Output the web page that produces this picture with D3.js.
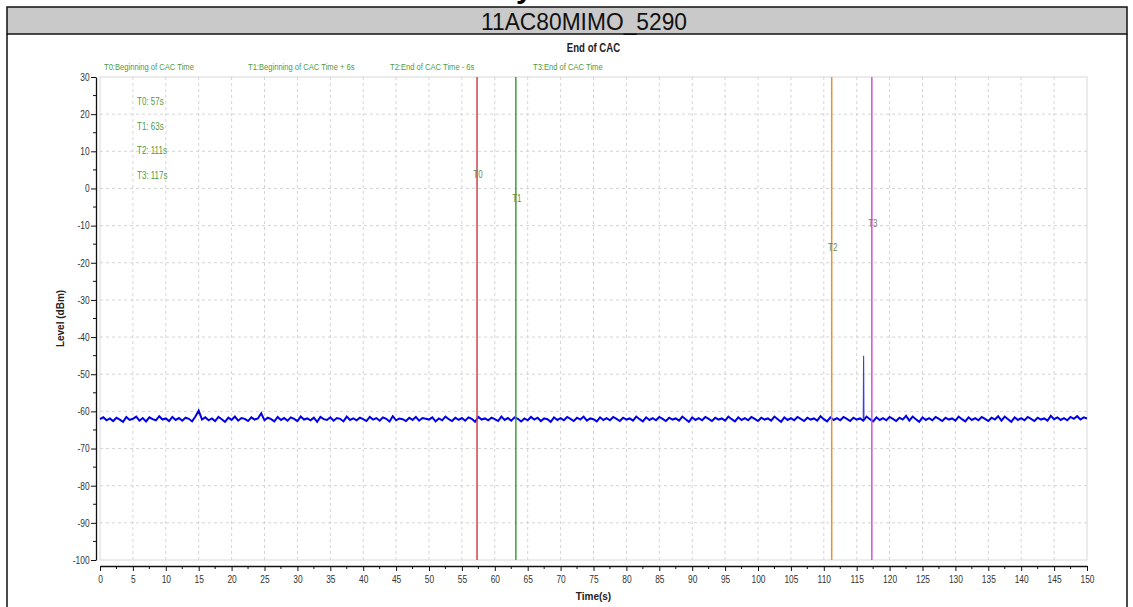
<!DOCTYPE html>
<html>
<head>
<meta charset="utf-8">
<script src="https://cdn.jsdelivr.net/npm/d3@7"></script>
<style>
  body { margin: 0; background: #fff; }
  text { font-family: "Liberation Sans", Arial, sans-serif; }
</style>
</head>
<body>
<div id="chart"></div>
<script>
// Data
const markerNames = ["T0", "T1", "T2", "T3"];
const markerTimes = [57.3, 63.2, 111.2, 117.3];
const markerColors = ["#d2404c", "#3f9c3f", "#e3923c", "#d452d4"];
const markerLabelLevels = [2.8, -3.6, -16.8, -10.4];
const legendTexts = ["T0:Beginning of CAC Time", "T1:Beginning of CAC Time + 6s", "T2:End of CAC Time - 6s", "T3:End of CAC Time"];
const infoTexts = ["T0: 57s", "T1: 63s", "T2: 111s", "T3: 117s"];
const xTicks = d3.range(0, 151, 5);
const yTicks = d3.range(-100, 31, 10);

// level trace, one value every 0.5 s from 0 to 150 s
const traceStep = 0.5;
const levels = [
  -62.1,-61.6,-62.4,-61.9,-62.6,-61.7,-62.2,-62.8,-61.5,-62.3,
  -62.0,-61.4,-62.5,-61.8,-62.7,-61.6,-62.1,-62.4,-61.3,-62.2,
  -61.9,-62.6,-61.5,-62.3,-61.8,-62.5,-61.7,-62.0,-62.7,-61.4,
  -59.8,-62.2,-61.6,-62.4,-61.9,-62.6,-61.5,-62.1,-62.8,-61.7,
  -62.3,-61.4,-62.5,-61.8,-62.0,-62.6,-61.6,-62.2,-61.9,-60.5,
  -62.4,-61.7,-62.1,-62.7,-61.5,-62.3,-61.8,-62.5,-61.6,-62.0,
  -62.6,-61.4,-62.2,-61.9,-62.4,-61.7,-62.8,-61.5,-62.1,-62.3,
  -61.6,-62.5,-61.8,-62.0,-62.7,-61.4,-62.3,-61.9,-62.4,-61.7,
  -62.1,-62.6,-61.5,-62.2,-61.8,-62.5,-61.6,-62.0,-62.7,-61.3,
  -62.4,-61.9,-62.1,-62.6,-61.7,-62.3,-61.5,-62.5,-61.8,-62.0,
  -62.2,-61.6,-62.7,-61.9,-62.4,-61.4,-62.1,-62.6,-61.7,-62.3,
  -61.8,-62.5,-61.6,-62.0,-62.8,-61.5,-62.2,-61.9,-62.4,-61.7,
  -62.1,-62.6,-61.4,-62.3,-61.8,-62.5,-61.6,-62.0,-62.7,-61.9,
  -62.4,-61.5,-62.2,-61.7,-62.6,-61.9,-62.1,-62.8,-61.6,-62.3,
  -61.8,-62.4,-61.5,-62.0,-62.6,-61.7,-62.2,-61.4,-62.5,-61.9,
  -62.1,-62.7,-61.6,-62.3,-61.8,-62.4,-61.5,-62.0,-62.6,-61.7,
  -62.2,-61.9,-62.5,-61.4,-62.1,-62.7,-61.6,-62.3,-61.8,-62.4,
  -61.5,-62.0,-62.6,-61.7,-62.2,-61.9,-62.5,-61.4,-62.1,-62.8,
  -61.6,-62.3,-61.8,-62.4,-61.5,-62.0,-62.6,-61.7,-62.2,-61.9,
  -62.5,-61.4,-62.1,-62.7,-61.6,-62.3,-61.8,-62.4,-61.5,-62.0,
  -62.6,-61.7,-62.2,-61.9,-62.5,-61.4,-62.1,-62.8,-61.6,-62.3,
  -61.8,-62.4,-61.5,-62.0,-62.6,-61.7,-62.2,-61.9,-62.5,-61.3,
  -62.1,-62.7,-61.6,-62.3,-61.8,-62.4,-61.5,-62.0,-62.6,-61.7,
  -62.2,-61.9,-62.5,-61.4,-62.1,-62.7,-61.6,-62.3,-61.8,-62.4,
  -61.5,-62.0,-62.6,-61.7,-62.2,-61.2,-62.5,-61.4,-62.1,-62.8,
  -61.6,-62.3,-61.8,-62.4,-61.5,-62.0,-62.6,-61.7,-62.2,-61.9,
  -62.5,-61.4,-62.1,-62.7,-61.6,-62.3,-61.8,-62.4,-61.5,-62.0,
  -62.6,-61.7,-62.2,-61.3,-62.5,-61.4,-62.1,-62.8,-61.6,-62.3,
  -61.8,-62.4,-61.5,-62.0,-62.6,-61.7,-62.2,-61.9,-62.5,-61.2,
  -62.1,-61.6,-62.3,-61.8,-62.4,-61.5,-62.0,-61.3,-62.2,-61.6,
  -61.9
];
// single burst near 116 s
const spikeTimes = [116.0, 116.05, 116.1];
const spikeLevels = [-62.0, -45.0, -62.0];

const W = 1133, H = 607;
const margin = { left: 100, right: 46, top: 77, bottom: 47 };
const squeeze = 0.8;   // the original uses a condensed face

const svg = d3.select("#chart").append("svg")
  .attr("width", W).attr("height", H);

// draws a condensed text at (px, py)
function narrowText(parent, px, py, str, size, color, anchor, bold) {
  return parent.append("g")
    .attr("transform", `translate(${px},${py}) scale(${squeeze},1)`)
    .append("text")
    .attr("text-anchor", anchor || "start")
    .attr("font-size", size)
    .attr("font-weight", bold ? "bold" : "normal")
    .attr("fill", color)
    .text(str);
}

// header strip and frame
svg.append("text")
  .attr("x", 516).attr("y", -2)
  .attr("font-weight", "bold").attr("font-size", 30)
  .text("y");
svg.append("rect")
  .attr("x", 7).attr("y", 7).attr("width", 1120).attr("height", 27)
  .attr("fill", "#c9c9c9").attr("stroke", "#111").attr("stroke-width", 1.5);
svg.append("path")
  .attr("d", "M7,34V607M1127,34V607")
  .attr("stroke", "#111").attr("stroke-width", 1.5).attr("fill", "none");
svg.append("g").attr("transform", "translate(584,30) scale(0.95,1)")
  .append("text")
  .attr("text-anchor", "middle")
  .attr("font-size", 24).attr("fill", "#111")
  .text("11AC80MIMO_5290");

const x = d3.scaleLinear().domain([0, 150]).range([margin.left, W - margin.right]);
const y = d3.scaleLinear().domain([-100, 30]).range([H - margin.bottom, margin.top]);

// grid
const grid = svg.append("g");
grid.selectAll(".vg").data(xTicks.filter(d => d > 0 && d < 150)).enter().append("line")
  .attr("x1", d => x(d)).attr("x2", d => x(d))
  .attr("y1", y(30)).attr("y2", y(-100))
  .attr("stroke", "#d4d4d4").attr("stroke-dasharray", "3,3");
grid.selectAll(".hg").data(yTicks.filter(d => d > -100 && d < 30)).enter().append("line")
  .attr("x1", x(0)).attr("x2", x(150))
  .attr("y1", d => y(d)).attr("y2", d => y(d))
  .attr("stroke", "#d4d4d4").attr("stroke-dasharray", "3,3");
svg.append("rect")
  .attr("x", x(0)).attr("y", y(30))
  .attr("width", x(150) - x(0)).attr("height", y(-100) - y(30))
  .attr("fill", "none").attr("stroke", "#d8d8d8");

// axes
const xAxis = d3.axisBottom(x).tickValues(xTicks).tickSize(5).tickSizeOuter(0).tickPadding(5)
  .tickFormat(d => String(d));
const xAxisG = svg.append("g").attr("transform", `translate(0,${y(-100) + 6})`).call(xAxis);
xAxisG.append("g").selectAll("line").data(d3.range(2.5, 150, 5)).enter().append("line")
  .attr("x1", d => x(d)).attr("x2", d => x(d)).attr("y1", 0).attr("y2", 3)
  .attr("stroke", "#111");
const yAxis = d3.axisLeft(y).tickValues(yTicks).tickSize(5).tickSizeOuter(0).tickPadding(3)
  .tickFormat(d => String(d));
const yAxisG = svg.append("g").attr("transform", `translate(${x(0) - 4},0)`).call(yAxis);
yAxisG.append("g").selectAll("line").data(d3.range(-95, 30, 10)).enter().append("line")
  .attr("y1", d => y(d)).attr("y2", d => y(d)).attr("x1", 0).attr("x2", -3)
  .attr("stroke", "#111");
[xAxisG, yAxisG].forEach(g => {
  g.select(".domain").attr("stroke", "#111").attr("stroke-width", 1.3);
  g.selectAll(".tick line").attr("stroke", "#111");
  g.selectAll(".tick text")
    .attr("font-family", "Liberation Sans, Arial, sans-serif")
    .attr("font-size", 10.5).attr("fill", "#333");
});
xAxisG.selectAll(".tick text").attr("transform", `scale(${squeeze},1)`);
yAxisG.selectAll(".tick text").attr("transform", `scale(${squeeze},1)`);

// axis titles
svg.append("text")
  .attr("x", x(75)).attr("y", 600).attr("text-anchor", "middle")
  .attr("font-weight", "bold").attr("font-size", 10).attr("fill", "#222")
  .text("Time(s)");
svg.append("text")
  .attr("transform", `translate(64,${(y(30) + y(-100)) / 2}) rotate(-90)`)
  .attr("text-anchor", "middle")
  .attr("font-weight", "bold").attr("font-size", 10).attr("fill", "#222")
  .text("Level (dBm)");
narrowText(svg, x(75), 52, "End of CAC", 12, "#222", "middle", true);

// legend across the top
const legendX = [104, 248, 390, 533];
const legendG = svg.append("g");
legendTexts.forEach((t, i) => narrowText(legendG, legendX[i], 70, t, 9.5, "#4f9a3f"));

// marker times listed inside the plot
const infoG = svg.append("g");
infoTexts.forEach((t, i) => narrowText(infoG, 137, 105 + i * 24.5, t, 10, "#4f9a3f"));

// trace, with the short burst drawn as a thin stroke on top
const line = d3.line().x(d => x(d[0])).y(d => y(d[1]));
const trace = levels.map((v, i) => [i * traceStep, v]);
svg.append("path")
  .datum(trace)
  .attr("fill", "none")
  .attr("stroke", "#0000e6")
  .attr("stroke-width", 2)
  .attr("d", line);
svg.append("path")
  .datum(spikeTimes.map((t, i) => [t, spikeLevels[i]]))
  .attr("fill", "none")
  .attr("stroke", "#3b3bea")
  .attr("stroke-width", 1.1)
  .attr("d", line);

// marker lines
const markers = markerNames.map((n, i) => ({ name: n, t: markerTimes[i], color: markerColors[i], lv: markerLabelLevels[i] }));
svg.append("g").selectAll("line").data(markers).enter().append("line")
  .attr("x1", d => x(d.t)).attr("x2", d => x(d.t))
  .attr("y1", y(30)).attr("y2", y(-100))
  .attr("stroke", d => d.color).attr("stroke-width", 1.5);
const labelG = svg.append("g");
markers.forEach((d, i) => narrowText(labelG, x(d.t) + 1, y(d.lv), d.name, 10,
  i === 3 ? "#7a7a7a" : "#5e8f4e", "middle"));
</script>
</body>
</html>
